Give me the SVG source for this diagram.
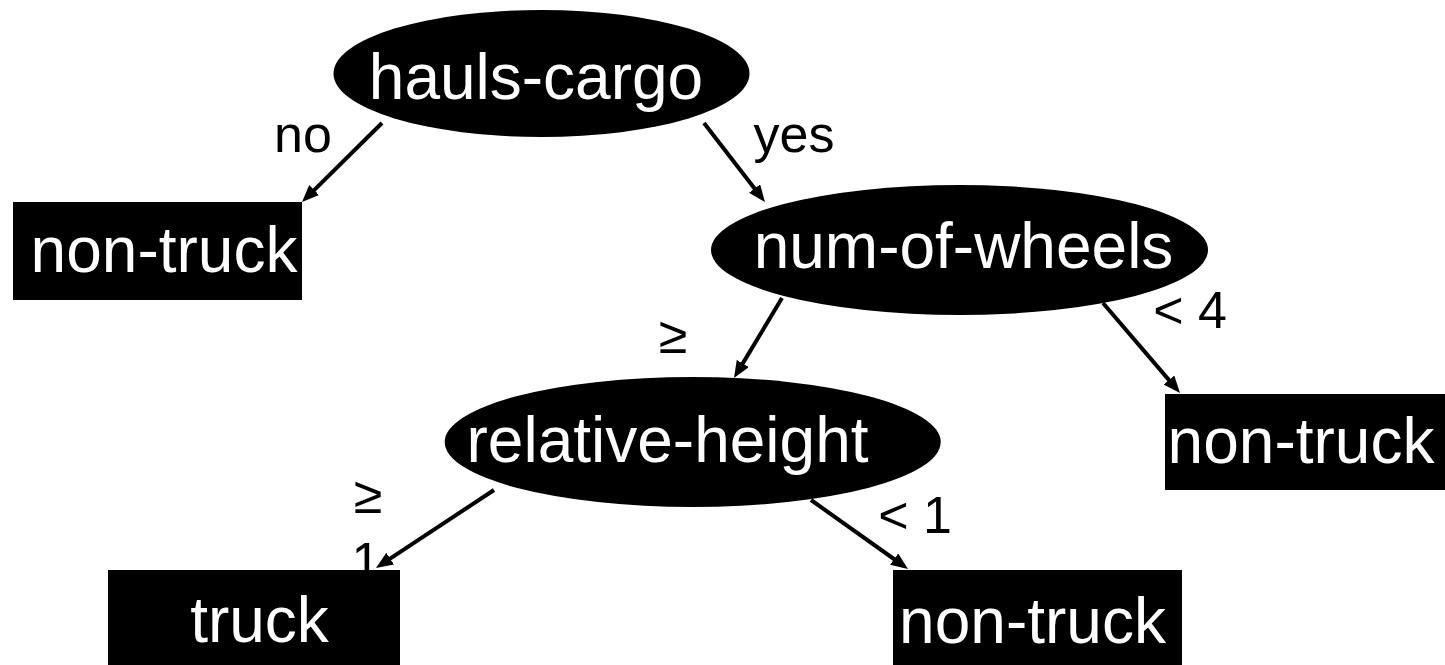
<svg xmlns="http://www.w3.org/2000/svg" width="1445" height="665" viewBox="0 0 1445 665">
<style>
.node{fill:#000}
.nt{font-family:"Liberation Sans",Arial,sans-serif;font-size:64px;fill:#fff;text-anchor:middle}
.lb{font-family:"Liberation Sans",Arial,sans-serif;font-size:52px;fill:#000;text-anchor:middle}
.edge{stroke:#000;stroke-width:4;fill:none;marker-end:url(#ah)}
</style>
<defs>
<marker id="ah" markerUnits="userSpaceOnUse" markerWidth="18" markerHeight="14" refX="11" refY="7" orient="auto">
<path d="M0,0 L17,7 L0,14 z" fill="#000"/>
</marker>
</defs>
<rect width="1445" height="665" fill="#fff"/>
<g id="labels">
<text class="lb" x="303" y="152">no</text>
<text class="lb" x="794" y="152">yes</text>
<text class="lb" x="1190" y="328">&lt; 4</text>
<text class="lb" x="673" y="353">≥</text>
<text class="lb" x="368" y="513">≥</text>
<text class="lb" x="366" y="579">1</text>
<text class="lb" x="915" y="533">&lt; 1</text>
</g>
<g id="connectors">
<line class="edge" x1="382" y1="123" x2="306.3" y2="197.8"/>
<line class="edge" x1="704" y1="123" x2="761.3" y2="197.3"/>
<line class="edge" x1="782" y1="298" x2="737.1" y2="372.9"/>
<line class="edge" x1="1103" y1="303" x2="1176.1" y2="388.4"/>
<line class="edge" x1="494" y1="490" x2="381" y2="564.7"/>
<line class="edge" x1="811" y1="500" x2="903.1" y2="565.5"/>
</g>
<g id="hauls-cargo">
<ellipse class="node" cx="541.5" cy="73.5" rx="208" ry="63.5"/>
<text class="nt" x="536" y="99">hauls-cargo</text>
</g>
<g id="non-truck-1">
<rect class="node" x="13" y="202" width="289" height="98"/>
<text class="nt" x="164" y="272">non-truck</text>
</g>
<g id="num-of-wheels">
<ellipse class="node" cx="959.5" cy="250" rx="248.5" ry="65"/>
<text class="nt" x="963.5" y="268">num-of-wheels</text>
</g>
<g id="relative-height">
<ellipse class="node" cx="692.7" cy="442" rx="248" ry="65"/>
<text class="nt" x="667.5" y="462">relative-height</text>
</g>
<g id="non-truck-2">
<rect class="node" x="1165" y="394" width="280" height="96"/>
<text class="nt" x="1301" y="463">non-truck</text>
</g>
<g id="truck">
<rect class="node" x="108" y="570" width="292" height="95"/>
<text class="nt" x="259.5" y="642">truck</text>
</g>
<g id="non-truck-3">
<rect class="node" x="893" y="570" width="289" height="95"/>
<text class="nt" x="1032.5" y="643">non-truck</text>
</g>
</svg>
